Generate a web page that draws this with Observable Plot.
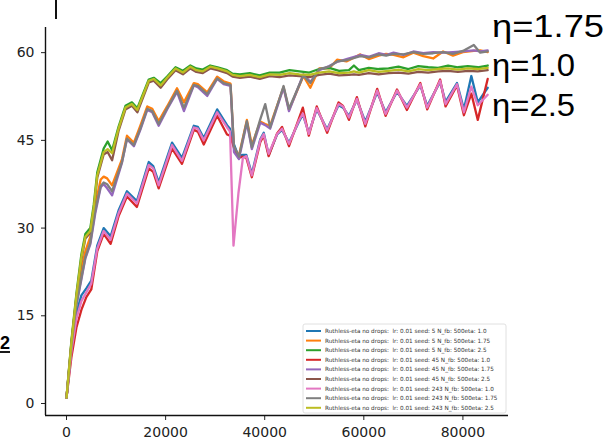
<!DOCTYPE html>
<html>
<head>
<meta charset="utf-8">
<script src="https://cdn.jsdelivr.net/npm/d3@7"></script>
<script src="https://cdn.jsdelivr.net/npm/@observablehq/plot@0.6"></script>
<style>
  html, body { margin: 0; padding: 0; background: #fff; }
  #chart { width: 608px; height: 440px; overflow: hidden; }
</style>
</head>
<body>
<div id="chart"></div>
<script>
// ---- data ----
const xTicks = [0, 20000, 40000, 60000, 80000];
const yTicks = [0, 15, 30, 45, 60];

const seriesNames = [
  "Ruthless-eta no drops:  lr: 0.01 seed: 5 N_fb: 500eta: 1.0",
  "Ruthless-eta no drops:  lr: 0.01 seed: 5 N_fb: 500eta: 1.75",
  "Ruthless-eta no drops:  lr: 0.01 seed: 5 N_fb: 500eta: 2.5",
  "Ruthless-eta no drops:  lr: 0.01 seed: 45 N_fb: 500eta: 1.0",
  "Ruthless-eta no drops:  lr: 0.01 seed: 45 N_fb: 500eta: 1.75",
  "Ruthless-eta no drops:  lr: 0.01 seed: 45 N_fb: 500eta: 2.5",
  "Ruthless-eta no drops:  lr: 0.01 seed: 243 N_fb: 500eta: 1.0",
  "Ruthless-eta no drops:  lr: 0.01 seed: 243 N_fb: 500eta: 1.75",
  "Ruthless-eta no drops:  lr: 0.01 seed: 243 N_fb: 500eta: 2.5"
];
const seriesColors = ["#1f77b4", "#ff7f0e", "#2ca02c", "#d62728", "#9467bd", "#8c564b", "#e377c2", "#7f7f7f", "#bcbd22"];

// eta 1.0 runs (blue, red, pink)
const stepsEta10 = [0, 1000, 2000, 3000, 4000, 5000, 6200, 7500, 8900, 10500, 12200, 14200, 16600, 17500, 18600, 21300, 23300, 25700, 26500, 27700, 30400, 32400, 33000, 33700, 34700, 35600, 36300, 37400, 39100, 39800, 40800, 42500, 43500, 44900, 46900, 47700, 48900, 50500, 52600, 54900, 55800, 57000, 58600, 60300, 62700, 64400, 66700, 68700, 71400, 72800, 75400, 76500, 78800, 80200, 81700, 83000, 85000];
const seed5eta10 = [1, 9.5, 15.5, 18.5, 19.7, 21, 27, 30, 28.6, 33, 36.3, 34.6, 41.3, 40.6, 37.8, 44.6, 42, 47.5, 47.3, 45.4, 50.3, 47.6, 47, 44.5, 42.3, 42.5, 42.5, 39.3, 45.2, 46.3, 42.5, 46, 46.8, 44.6, 48.2, 49.4, 46.3, 50.3, 46.9, 51, 50.6, 49.2, 51.9, 48.2, 53.2, 49.8, 53.3, 50.9, 54.4, 50.9, 55, 51.6, 54.8, 50.3, 56, 51.5, 54];
const seed45eta10 = [1, 8, 13, 16, 18.2, 19.5, 26, 29, 27.3, 32, 35.4, 33.6, 40.2, 39.6, 36.8, 43.6, 41, 46.8, 46.5, 44.3, 49.2, 46, 45.8, 44, 42, 42.2, 42, 38.7, 44.7, 45.8, 42.3, 46.2, 47.3, 44, 48.7, 50.6, 45.8, 50.8, 46.3, 51.5, 50.9, 48.5, 52.4, 47.4, 53.8, 49.2, 53.7, 50.2, 54.8, 50.3, 55.4, 50.8, 54.4, 49.3, 53, 48.5, 55.5];
const seed243eta10 = [1, 9, 14.5, 17.5, 19, 20.5, 26.5, 29.5, 28, 32.5, 35.9, 34.2, 40.8, 40.2, 37.3, 44.2, 41.5, 47.2, 47, 45, 49.8, 47.2, 46.5, 27, 36, 42, 42.3, 39, 45, 46.1, 42.7, 46.1, 47, 44.4, 48.4, 49.6, 46.1, 50.5, 46.7, 51.2, 50.8, 48.9, 52.1, 47.8, 53.5, 49.5, 53.5, 50.6, 54.6, 50.6, 55.2, 51.2, 54.6, 49.8, 54.2, 51, 52.8];

// eta 1.75 runs (orange, purple, gray)
const stepsEta175 = [0, 1000, 2000, 3000, 3800, 4800, 5800, 6900, 7500, 8200, 9200, 11200, 12200, 13600, 14900, 16300, 17300, 18600, 20300, 22300, 23700, 25700, 26500, 28400, 30400, 31700, 33100, 33800, 34800, 36400, 37400, 39100, 40100, 41100, 43800, 44900, 47800, 49200, 51000, 53000, 54600, 56500, 59300, 61000, 63000, 64500, 66000, 68000, 70000, 72000, 74000, 76000, 78000, 80000, 82200, 83500, 85000];
const seed5eta175 = [1, 10.5, 18, 23, 26, 28.5, 34, 38.3, 38.8, 38.5, 37.3, 41.8, 45.8, 44.6, 47.5, 50.8, 50.4, 48.3, 50.8, 53.9, 51.5, 54.8, 54.6, 53.2, 55.9, 55.1, 54.7, 43.6, 42.4, 48.5, 44.2, 48.2, 47.8, 47.5, 54.1, 50.2, 56, 54, 57.3, 57.3, 58.8, 58.5, 59.7, 58.9, 59.5, 59.8, 59.6, 59.2, 60, 59.4, 59, 60.2, 59.5, 60.1, 60.3, 60.4, 60.1];
const seed45eta175 = [1, 9.8, 16.8, 21.2, 24.8, 27.2, 32.5, 37, 37.5, 36.8, 35.6, 41.2, 45.2, 44, 46.8, 50.2, 49.8, 47.5, 50.3, 53.3, 50, 54.4, 54.1, 52.6, 55.5, 54.6, 54.3, 43, 41.8, 48, 43.5, 48, 47.6, 47, 54, 50, 56.3, 55, 57, 57.7, 58.4, 58.9, 59.6, 59.3, 59.9, 59.6, 60, 59.6, 60.2, 59.9, 60.1, 60, 60.1, 60.2, 60.4, 60.2, 60.4];
const seed243eta175 = [1, 10, 17, 21.5, 25, 27.5, 33, 37.2, 37.8, 37.5, 36.3, 41.3, 45.3, 44.2, 47, 50.4, 50, 47.8, 50.5, 53.5, 50.6, 54.5, 54.3, 52.9, 55.6, 54.8, 54.5, 44, 42.2, 48.3, 43.8, 48.6, 51.2, 47.2, 54.3, 50.4, 56.1, 54.8, 57.2, 57.6, 58.5, 58.7, 59.4, 59.2, 59.7, 59.5, 59.8, 59.7, 60.1, 59.8, 59.9, 60.1, 59.8, 60.3, 61.3, 60, 60.2];

// eta 2.5 runs (green, brown, olive)
const stepsEta25 = [0, 1000, 2000, 3000, 3800, 4800, 5500, 6200, 7500, 8300, 9200, 10500, 11900, 13200, 14300, 16600, 17600, 19000, 20300, 22000, 23500, 25000, 26200, 27500, 29000, 30500, 32400, 33500, 35000, 37000, 39000, 41000, 43000, 45000, 47000, 49000, 51000, 53000, 55000, 57000, 58000, 59000, 61000, 63000, 65000, 67000, 69000, 71000, 73000, 75000, 77000, 79000, 81000, 83000, 85000];
const seed5eta25 = [1, 10.8, 18.8, 25.5, 29, 30, 34, 39.5, 43.6, 44.8, 43.3, 47.3, 50.9, 51.5, 50.5, 55.4, 55.7, 54.8, 55.9, 57.5, 56.9, 57.8, 57.3, 57.1, 57.8, 57.5, 57, 56.4, 56.3, 56.5, 56.1, 56.6, 56.6, 57, 56.8, 56.6, 57.2, 57.4, 56.9, 57, 57.8, 57, 57.4, 57.2, 57.3, 57.6, 57.2, 57.7, 57.5, 57.4, 57.8, 57.5, 57.7, 57.5, 57.8];
const seed45eta25 = [1, 10.2, 18.2, 24.6, 28.2, 29.2, 33, 38.6, 42.6, 43, 41.6, 46.6, 50.3, 50.9, 49.8, 54.9, 55.2, 54, 55.4, 57, 56.3, 57.3, 56.7, 56.5, 57.3, 57, 56.5, 55.9, 55.7, 55.9, 55.5, 56, 55.8, 56.1, 56, 55.8, 56.2, 56.4, 56.1, 56.2, 56.3, 56.2, 56.5, 56.3, 56.5, 56.6, 56.4, 56.7, 56.6, 56.8, 56.9, 56.7, 56.9, 56.8, 57];
const seed243eta25 = [1, 10.5, 18.5, 25, 28.5, 29.5, 33.5, 39, 43, 43.5, 42.8, 47, 50.6, 51.2, 50.2, 55.2, 55.5, 54.4, 55.7, 57.3, 56.6, 57.6, 57, 56.8, 57.6, 57.3, 56.8, 56.2, 56, 56.2, 55.8, 56.3, 56.2, 56.5, 56.3, 56.2, 56.6, 56.8, 56.5, 56.6, 56.8, 56.6, 57, 56.7, 56.9, 57.1, 56.8, 57.2, 57, 57.2, 57.3, 57.1, 57.3, 57.2, 57.4];

const annotations = ["η=1.75", "η=1.0", "η=2.5"];

// ---- build tidy rows (legend order = draw order) ----
const seriesDefs = [
  [stepsEta10, seed5eta10], [stepsEta175, seed5eta175], [stepsEta25, seed5eta25],
  [stepsEta10, seed45eta10], [stepsEta175, seed45eta175], [stepsEta25, seed45eta25],
  [stepsEta10, seed243eta10], [stepsEta175, seed243eta175], [stepsEta25, seed243eta25]
];
const rows = [];
seriesDefs.forEach(([xs, ys], i) => {
  const n = Math.min(xs.length, ys.length);
  for (let k = 0; k < n; k++) rows.push({series: seriesNames[i], step: xs[k], value: ys[k]});
});

const xDomain = [-4240, 89200];
const yDomain = [-2.05, 64.3];

const lineMarks = seriesNames.map((name, i) =>
  Plot.line(rows.filter(r => r.series === name), {
    x: "step", y: "value", stroke: seriesColors[i], strokeWidth: 2.3,
    strokeLinejoin: "round", strokeLinecap: "round"
  })
);

const chart = Plot.plot({
  width: 608, height: 440,
  marginLeft: 45, marginRight: 100, marginTop: 27, marginBottom: 25,
  x: {domain: xDomain},
  y: {domain: yDomain},
  style: {fontFamily: "DejaVu Sans", background: "#fff", color: "#222", overflow: "visible"},
  marks: [
    Plot.axisX({ticks: xTicks, tickSize: 5, tickPadding: 7, fontSize: 14, tickFormat: d => String(d), label: null, stroke: "#222"}),
    Plot.axisY({ticks: yTicks, tickSize: 4, tickPadding: 7, fontSize: 14, label: null, stroke: "#222"}),
    ...lineMarks,
    Plot.ruleX([xDomain[0]], {stroke: "#111", strokeWidth: 1.4}),
    Plot.ruleY([yDomain[0]], {stroke: "#111", strokeWidth: 1.4})
  ]
});

document.getElementById("chart").appendChild(chart);

// ---- legend box (lower right, inside axes) ----
const svg = d3.select(chart);
const lg = svg.append("g").attr("font-family", "DejaVu Sans").attr("text-anchor", "start");
lg.append("rect").attr("x", 303).attr("y", 324).attr("width", 203).attr("height", 89)
  .attr("rx", 2).attr("fill", "#fff").attr("fill-opacity", 0.9)
  .attr("stroke", "#d8d8d8").attr("stroke-width", 0.8);
seriesNames.forEach((name, i) => {
  const yy = 331 + i * 9.6;
  lg.append("line").attr("x1", 306).attr("x2", 321).attr("y1", yy).attr("y2", yy)
    .attr("stroke", seriesColors[i]).attr("stroke-width", 2);
  lg.append("text").attr("x", 325).attr("y", yy).attr("dy", "0.35em")
    .attr("text-anchor", "start")
    .attr("font-size", 5.7).attr("fill", "#333").text(name);
});

// ---- slide annotations ----
const ann = svg.append("g").attr("font-family", "Liberation Sans, Arial, sans-serif")
  .attr("fill", "#000").attr("text-anchor", "start");
const annWidths = [112, 83, 83];
[37, 76, 116].forEach((yy, i) => {
  ann.append("text").attr("x", 492).attr("y", yy).attr("font-size", 32)
    .attr("text-anchor", "start")
    .attr("textLength", annWidths[i]).attr("lengthAdjust", "spacingAndGlyphs")
    .text(annotations[i]);
});
// screenshot artifacts
svg.append("line").attr("x1", 56).attr("x2", 56).attr("y1", 0).attr("y2", 19)
  .attr("stroke", "#111").attr("stroke-width", 2);
svg.append("text").attr("x", 0).attr("y", 349).attr("text-anchor", "start")
  .attr("font-family", "Liberation Sans, Arial, sans-serif")
  .attr("font-weight", "bold").attr("font-size", 18).attr("fill", "#000").text("2");
svg.append("line").attr("x1", 0).attr("x2", 10).attr("y1", 352).attr("y2", 352)
  .attr("stroke", "#000").attr("stroke-width", 1.8);
</script>
</body>
</html>
